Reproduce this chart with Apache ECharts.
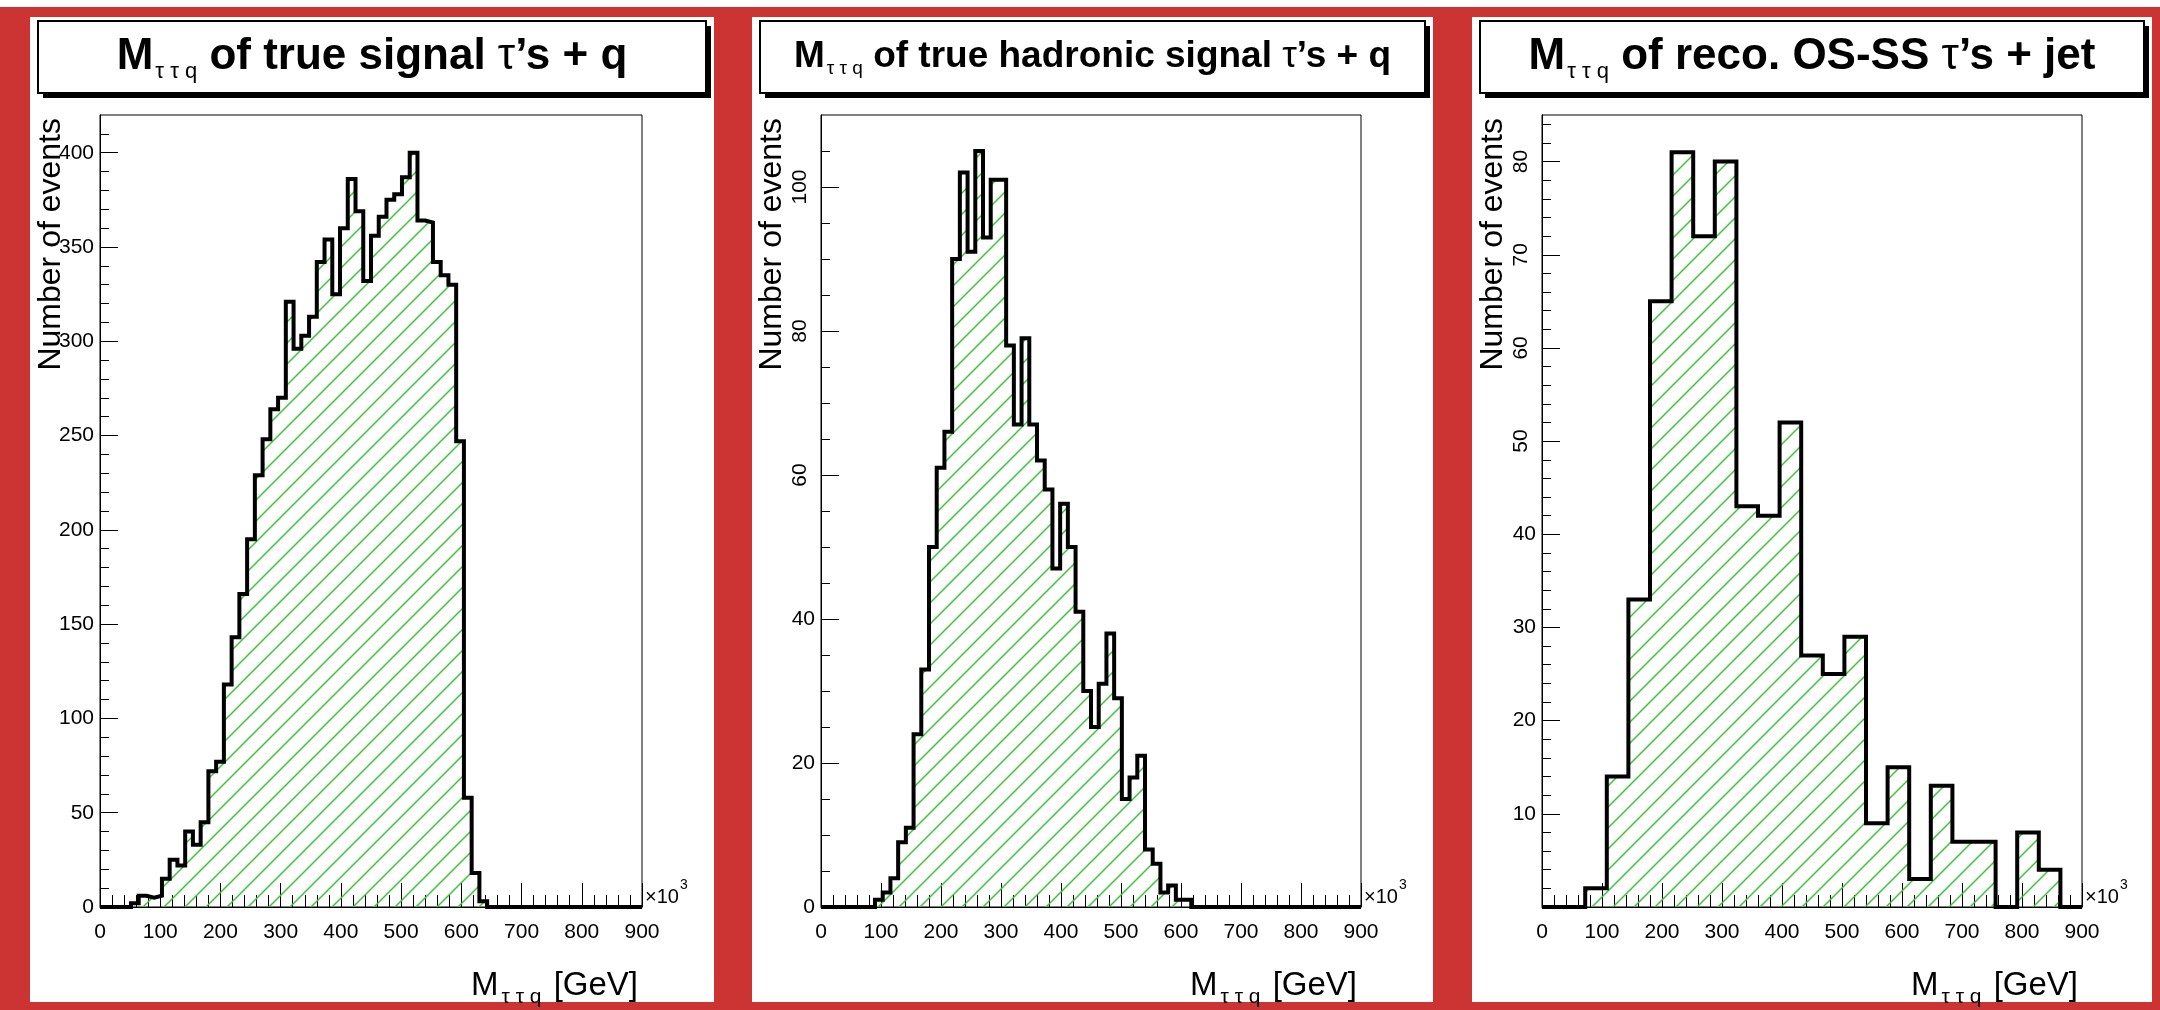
<!DOCTYPE html>
<html>
<head>
<meta charset="utf-8">
<title>M tau tau q</title>
<script src="https://cdn.jsdelivr.net/npm/echarts@6.0.0/dist/echarts.min.js"></script>
<style>
  html, body { margin: 0; padding: 0; background: #fff; }
  #mtautauq { width: 2160px; height: 1010px; }
</style>
</head>
<body>
<div id="mtautauq"></div>
<script>
// x axis: M(tau tau q), 0..900 (x10^3 on the original axis)
const xRange = [0, 900];

// 70 bins of 900/70
const trueSignal = [
  0, 0, 0, 0, 2, 6, 5, 6, 15, 25,
  22, 40, 33, 45, 72, 77, 118, 143, 166, 195,
  229, 248, 264, 270, 321, 296, 303, 313, 342, 354,
  325, 360, 386, 369, 332, 356, 366, 375, 378, 387,
  400, 364, 363, 342, 335, 330, 247, 58, 18, 3,
  0, 0, 0, 0, 0, 0, 0, 0, 0, 0,
  0, 0, 0, 0, 0, 0, 0, 0, 0, 0
];
const trueHadronic = [
  0, 0, 0, 0, 0, 0, 0, 1, 2, 4,
  9, 11, 24, 33, 50, 61, 66, 90, 102, 91,
  105, 93, 101, 101, 78, 67, 79, 67, 62, 58,
  47, 56, 50, 41, 30, 25, 31, 38, 29, 15,
  18, 21, 8, 6, 2, 3, 1, 1, 0, 0,
  0, 0, 0, 0, 0, 0, 0, 0, 0, 0,
  0, 0, 0, 0, 0, 0, 0, 0, 0, 0
];
// 25 bins of 36
const recoOsSs = [0, 0, 2, 14, 33, 65, 81, 72, 80, 43, 42, 52, 27, 25, 29, 9, 15, 3, 13, 7, 7, 0, 8, 4, 0];

const yMax = [420, 110, 85];
const yMajor = [
  [0, 50, 100, 150, 200, 250, 300, 350, 400],
  [0, 20, 40, 60, 80, 100],
  [10, 20, 30, 40, 50, 60, 70, 80]
];
const yMinorStep = [10, 5, 2];
// upright labels and the ones drawn turned by 90 degrees
const yLabelsFlat = [
  [0, 50, 100, 150, 200, 250, 300, 350, 400],
  [0, 20, 40],
  [10, 20, 30, 40]
];
const yLabelsTurned = [[], [60, 80, 100], [50, 60, 70, 80]];

const titleParts = [
  ' of true signal ',
  ' of true hadronic signal ',
  ' of reco. OS-SS '
];
const titleEnds = ['\u2019s + q', '\u2019s + q', '\u2019s + jet'];
const titleSize = [44, 37, 44];

// layout
const FONT = '"Liberation Sans", Arial, Helvetica, sans-serif';
const frameTop = 115, frameBottom = 907;
const frames = [[100, 642], [821, 1361], [1542, 2082]];
const panels = [[30, 714], [752, 1433], [1472, 2152]];

function histData(counts) {
  const w = (xRange[1] - xRange[0]) / counts.length;
  const pts = counts.map((c, i) => [xRange[0] + i * w, c]);
  pts.push([xRange[1], counts[counts.length - 1]]);
  return pts;
}

function minorTicks(major, step, max) {
  const out = [];
  for (let v = step; v < max; v += step) {
    if (major.indexOf(v) < 0) out.push(v);
  }
  return out;
}

function makeHatch() {
  const s = 21;
  const c = document.createElement('canvas');
  c.width = s; c.height = s;
  const ctx = c.getContext('2d');
  ctx.strokeStyle = '#38c838';
  ctx.lineWidth = 1.5;
  ctx.beginPath();
  ctx.moveTo(-2, s + 2); ctx.lineTo(s + 2, -2);
  ctx.moveTo(-2, 2); ctx.lineTo(2, -2);
  ctx.moveTo(s - 2, s + 2); ctx.lineTo(s + 2, s - 2);
  ctx.stroke();
  return c;
}
const hatch = { image: makeHatch(), repeat: 'repeat' };

const allCounts = [trueSignal, trueHadronic, recoOsSs];

const grids = [], xAxes = [], yAxes = [], series = [], elements = [];

elements.push({ type: 'rect', z: -10, shape: { x: 0, y: 0, width: 2160, height: 7 }, style: { fill: '#fff' } });

frames.forEach(function (f, i) {
  const width = f[1] - f[0];
  grids.push({
    left: f[0], top: frameTop, width: width, height: frameBottom - frameTop,
    show: true, borderColor: '#000', borderWidth: 1, backgroundColor: 'transparent',
    containLabel: false, outerBoundsMode: 'none'
  });

  xAxes.push({
    gridIndex: i, type: 'value', min: xRange[0], max: xRange[1], interval: 100,
    axisLine: { show: true, onZero: false, lineStyle: { color: '#000', width: 1 } },
    axisTick: { show: true, inside: true, length: 24, lineStyle: { color: '#000', width: 1 } },
    minorTick: { show: true, splitNumber: 5, length: 12, lineStyle: { color: '#000', width: 1 } },
    axisLabel: { show: true, color: '#000', fontSize: 21, fontFamily: FONT, margin: 15, showMinLabel: true, showMaxLabel: true },
    splitLine: { show: false }, minorSplitLine: { show: false }
  });

  const base = { gridIndex: i, type: 'value', position: 'left', offset: 0, min: 0, max: yMax[i], splitLine: { show: false } };
  yAxes.push(Object.assign({}, base, {
    axisLine: { show: true, onZero: false, lineStyle: { color: '#000', width: 1 } },
    axisTick: { show: true, inside: true, length: 18, customValues: yMajor[i], lineStyle: { color: '#000', width: 1 } },
    axisLabel: { show: true, customValues: yLabelsFlat[i], color: '#000', fontSize: 21, fontFamily: FONT, margin: 6 }
  }));
  yAxes.push(Object.assign({}, base, {
    axisLine: { show: false },
    axisTick: { show: true, inside: true, length: 9, customValues: minorTicks(yMajor[i], yMinorStep[i], yMax[i]), lineStyle: { color: '#000', width: 1 } },
    axisLabel: { show: false }
  }));
  yAxes.push(Object.assign({}, base, {
    axisLine: { show: false },
    axisTick: { show: false },
    axisLabel: yLabelsTurned[i].length
      ? { show: true, customValues: yLabelsTurned[i], rotate: 90, color: '#000', fontSize: 21, fontFamily: FONT, margin: 10 }
      : { show: false }
  }));

  series.push({
    type: 'line', xAxisIndex: i, yAxisIndex: 3 * i,
    data: histData(allCounts[i]), step: 'end',
    symbol: 'none', showSymbol: false, clip: true, silent: true, z: 5,
    lineStyle: { color: '#000', width: 4, join: 'miter' },
    itemStyle: { color: '#000' },
    areaStyle: { color: hatch, opacity: 1 }
  });

  // panel, title box with its shadow
  const p = panels[i];
  const boxX = p[0] + 8, boxW = p[1] - p[0] - 16, boxY = 21, boxH = 72;
  elements.push({ type: 'rect', z: -10, shape: { x: p[0], y: 17, width: p[1] - p[0], height: 985 }, style: { fill: '#fff' } });
  elements.push({ type: 'rect', z: -9, shape: { x: boxX + 5, y: boxY + 5, width: boxW, height: boxH }, style: { fill: '#000' } });
  elements.push({ type: 'rect', z: -8, shape: { x: boxX, y: boxY, width: boxW, height: boxH }, style: { fill: '#fff', stroke: '#000', lineWidth: 2 } });

  const ts = titleSize[i], ss = Math.round(ts / 2);
  elements.push({
    type: 'text', z: 20, x: boxX + boxW / 2, y: boxY + boxH / 2,
    style: {
      text: '{m|M}{s|\u03c4 \u03c4 q}{m|' + titleParts[i] + '}{t|\u03c4}{m|' + titleEnds[i] + '}',
      align: 'center', textAlign: 'center', verticalAlign: 'middle', textVerticalAlign: 'middle',
      rich: {
        m: { fontSize: ts, fontWeight: 'bold', fontFamily: FONT, fill: '#000', color: '#000' },
        s: { fontSize: ss, fontFamily: FONT, fill: '#000', color: '#000', lineHeight: ss, padding: [Math.round(ts * 0.66), 0, 0, 2] },
        t: { fontSize: ts, fontFamily: FONT, fill: '#000', color: '#000' }
      }
    }
  });

  // y title
  elements.push({
    type: 'text', z: 20, x: f[0] - 49, y: frameTop + 3, rotation: Math.PI / 2,
    style: {
      text: 'Number of events', font: '32px ' + FONT, fill: '#000',
      align: 'right', textAlign: 'right', verticalAlign: 'middle', textVerticalAlign: 'middle'
    }
  });

  // x title
  elements.push({
    type: 'text', z: 20, x: f[1] - 4, y: 986,
    style: {
      text: '{m|M}{s|\u03c4 \u03c4 q}{m| [GeV]}',
      align: 'right', textAlign: 'right', verticalAlign: 'middle', textVerticalAlign: 'middle',
      rich: {
        m: { fontSize: 33, fontFamily: FONT, fill: '#000', color: '#000' },
        s: { fontSize: 21, fontFamily: FONT, fill: '#000', color: '#000', lineHeight: 21, padding: [22, 3, 0, 3] }
      }
    }
  });

  // axis multiplier
  elements.push({
    type: 'text', z: 20, x: f[1] + 3, y: frameBottom - 10,
    style: {
      text: '{a|\u00d710}{b|3}',
      align: 'left', textAlign: 'left', verticalAlign: 'middle', textVerticalAlign: 'middle',
      rich: {
        a: { fontSize: 20, fontFamily: FONT, fill: '#000', color: '#000' },
        b: { fontSize: 14, fontFamily: FONT, fill: '#000', color: '#000', padding: [0, 0, 24, 1] }
      }
    }
  });
});

const chart = echarts.init(document.getElementById('mtautauq'));
chart.setOption({
  animation: false,
  backgroundColor: '#cc3333',
  grid: grids,
  xAxis: xAxes,
  yAxis: yAxes,
  series: series,
  graphic: { elements: elements }
});
</script>
</body>
</html>
